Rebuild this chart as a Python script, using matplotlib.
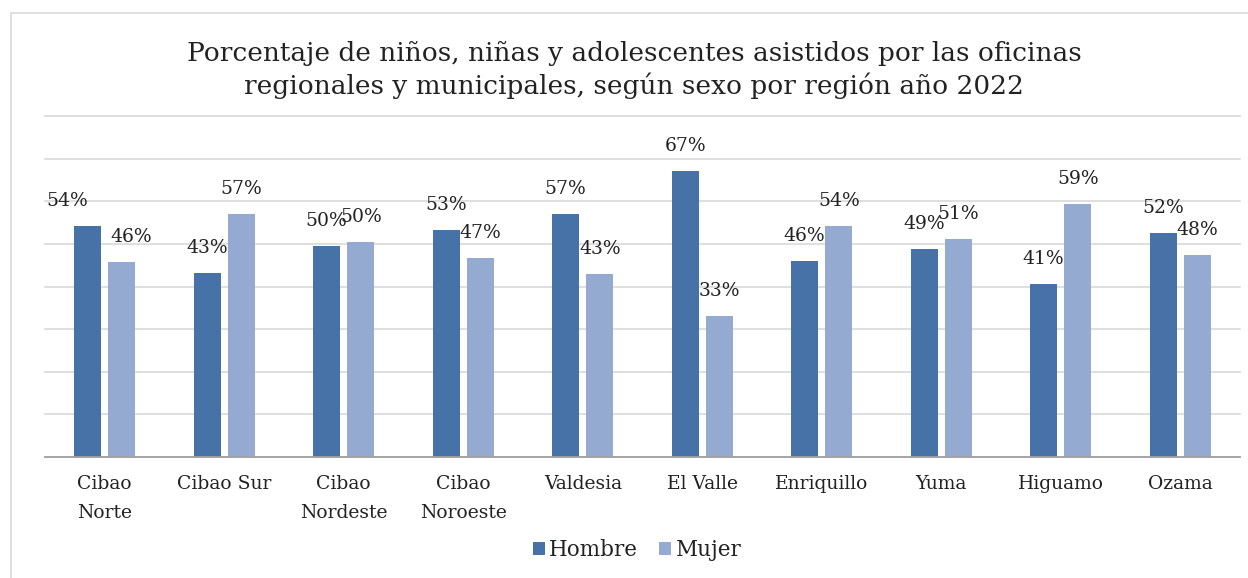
import matplotlib.pyplot as plt
import numpy as np
from matplotlib.patches import Rectangle

REGIONS = ["Cibao\nNorte", "Cibao Sur", "Cibao\nNordeste", "Cibao\nNoroeste", "Valdesia",
           "El Valle", "Enriquillo", "Yuma", "Higuamo", "Ozama"]
HOMBRE = [54.3, 43.1, 49.6, 53.2, 57.1, 67.0, 45.9, 48.9, 40.7, 52.5]
MUJER = [45.7, 56.9, 50.4, 46.8, 42.9, 33.0, 54.1, 51.1, 59.3, 47.5]

TITLE = ("Porcentaje de niños, niñas y adolescentes asistidos por las oficinas\n"
         "regionales y municipales, según sexo por región año 2022")

C_HOMBRE = "#4672A8"
C_MUJER = "#95AAD1"
FONT = "DejaVu Serif"

plt.rcParams["font.family"] = FONT

fig = plt.figure(figsize=(12.48, 5.78), dpi=100)
ax = fig.add_axes([45 / 1248, 1 - 457 / 578, (1240 - 45) / 1248, (457 - 116) / 578])

# chart area border (runs off the image at right and bottom)
fig.patches.append(Rectangle((10.5 / 1248, -0.05), 1.2, 1 - 12.5 / 578 + 0.05,
                             transform=fig.transFigure, fill=False,
                             edgecolor="#D9D9D9", linewidth=1.2))

x = np.arange(len(REGIONS))
w = 0.226
off = 0.143
b1 = ax.bar(x - off, HOMBRE, w, color=C_HOMBRE, label="Hombre", zorder=3)
b2 = ax.bar(x + off, MUJER, w, color=C_MUJER, label="Mujer", zorder=3)

# Cibao Norte labels are nudged sideways in the original
nudge_h = {0: -15}
nudge_m = {0: 7}
for i, (bh, bm) in enumerate(zip(b1, b2)):
    for bar, val, nd in ((bh, HOMBRE[i], nudge_h), (bm, MUJER[i], nudge_m)):
        ax.annotate(f"{round(val)}%", (bar.get_x() + bar.get_width() / 2, val),
                    xytext=(nd.get(i, 0), 18), textcoords="offset points",
                    ha="center", va="center", fontsize=13.5, color="#222222")

ax.set_xlim(-0.5, len(REGIONS) - 0.5)
ax.set_ylim(0, 80)
ax.set_yticks(np.arange(0, 81, 10))
ax.tick_params(axis="y", left=False, labelleft=False)
ax.grid(axis="y", color="#D9D9D9", linewidth=1.2, zorder=0)
for gl in ax.get_ygridlines():
    gl.set_clip_on(False)
ax.set_axisbelow(True)
for s in ("top", "right", "left"):
    ax.spines[s].set_visible(False)
ax.spines["bottom"].set_color("#A0A0A0")
ax.spines["bottom"].set_linewidth(1.3)
ax.spines["bottom"].set_zorder(4)

ax.set_xticks(x)
ax.set_xticklabels(REGIONS, fontsize=13.5, color="#222222", linespacing=1.75)
ax.tick_params(axis="x", length=0, pad=13)

fig.text(634 / 1248, 1 - 70 / 578, TITLE, ha="center", va="center",
         fontsize=19, color="#222222", linespacing=1.3)

ax.legend(loc="center", bbox_to_anchor=(637 / 1248, 1 - 550 / 578),
          bbox_transform=fig.transFigure, ncol=2, frameon=False, fontsize=15.5,
          handlelength=0.55, handleheight=0.55, handletextpad=0.2, columnspacing=1.0,
          labelcolor="#222222")

fig.savefig("out.png", dpi=100)
